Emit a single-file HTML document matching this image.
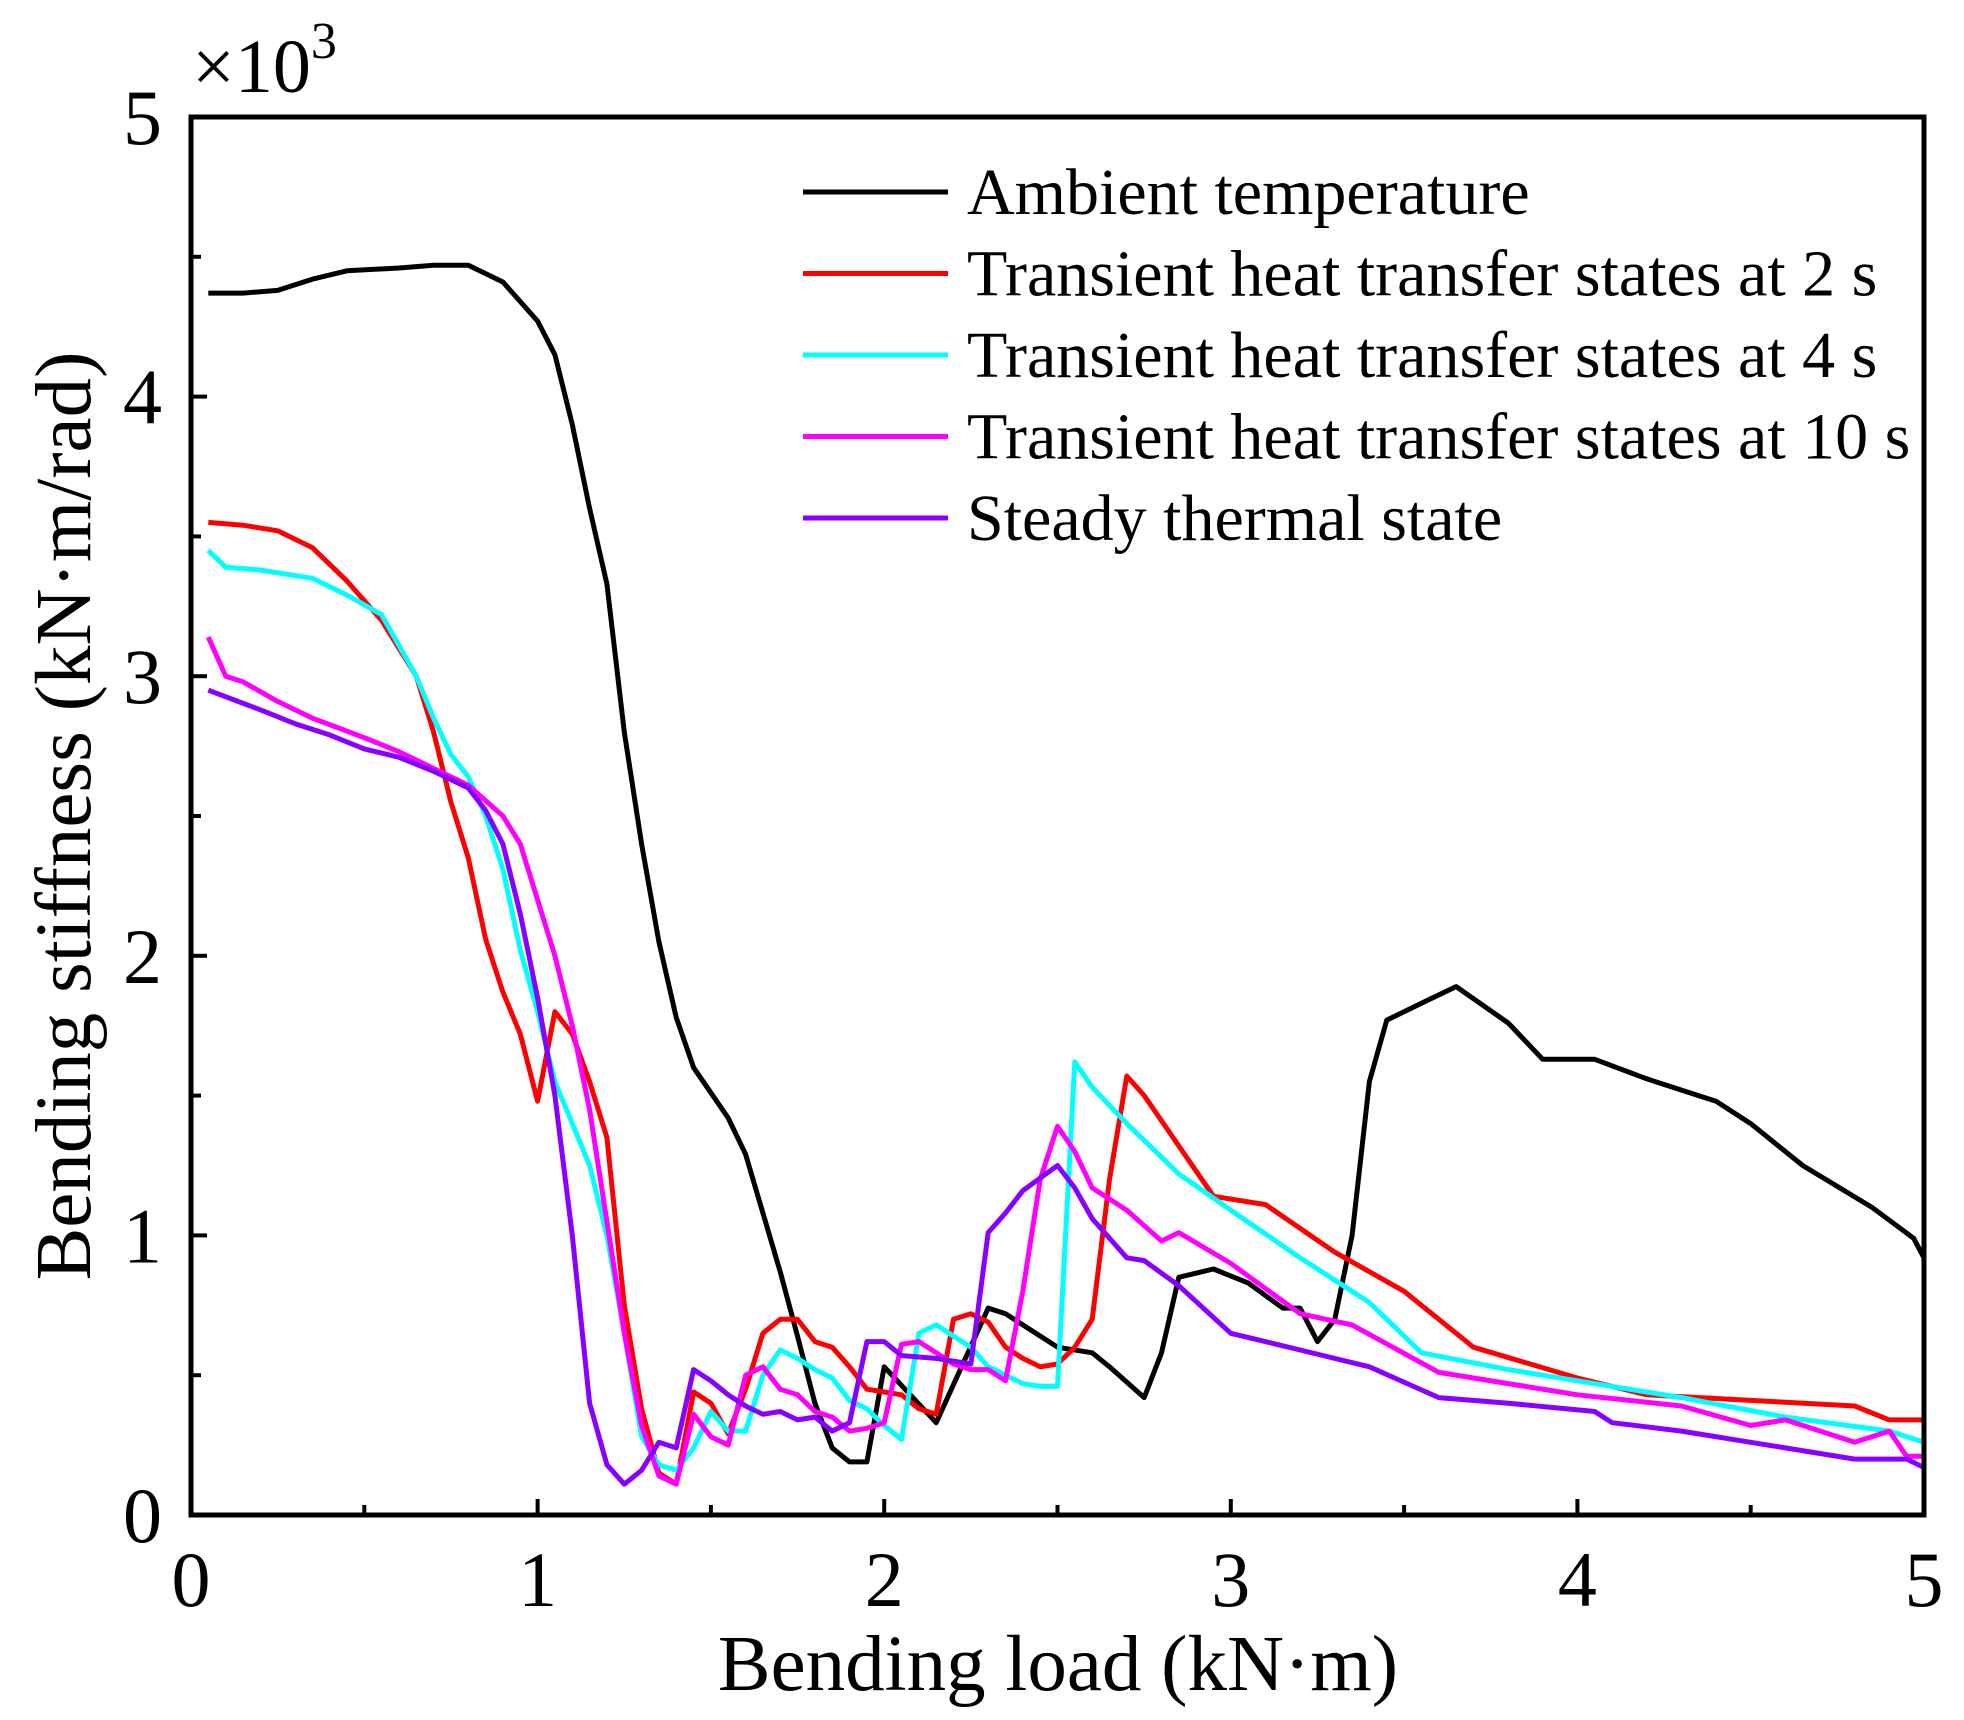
<!DOCTYPE html>
<html><head><meta charset="utf-8"><style>
body{margin:0;background:#fff}
svg text{font-family:"Liberation Serif",serif;fill:#000}
</style></head><body>
<svg id="c" width="1964" height="1715" viewBox="0 0 1964 1715"></svg>
<script>
const xTicks=[0,1,2,3,4,5];
const yTicks=[0,1,2,3,4,5];
const seriesNames=["Ambient temperature","Transient heat transfer states at 2 s","Transient heat transfer states at 4 s","Transient heat transfer states at 10 s","Steady thermal state"];
const seriesColors=["#000000","#ff0000","#00ffff","#ff00ff","#8800ff"];
const ambX=[0.05,0.15,0.25,0.35,0.45,0.6,0.7,0.8,0.9,1.0,1.05,1.1,1.15,1.2,1.25,1.3,1.35,1.4,1.45,1.5,1.55,1.6,1.65,1.7,1.75,1.8,1.85,1.9,1.95,2.0,2.15,2.3,2.35,2.4,2.5,2.6,2.65,2.75,2.8,2.85,2.95,3.05,3.15,3.2,3.25,3.3,3.35,3.4,3.45,3.55,3.65,3.8,3.9,4.05,4.2,4.4,4.5,4.65,4.85,4.97,5.0];
const ambY=[4370,4370,4380,4420,4450,4460,4470,4470,4410,4270,4150,3900,3600,3330,2800,2400,2050,1780,1600,1510,1420,1290,1080,870,640,400,240,190,190,530,330,740,720,680,600,580,530,420,580,850,880,830,740,740,620,700,1000,1550,1770,1830,1890,1760,1630,1630,1560,1480,1400,1250,1100,990,920];
const s2X=[0.05,0.15,0.25,0.35,0.45,0.55,0.65,0.7,0.75,0.8,0.85,0.9,0.95,1.0,1.05,1.1,1.15,1.2,1.25,1.3,1.35,1.4,1.45,1.5,1.55,1.6,1.65,1.7,1.75,1.8,1.85,1.9,1.95,2.0,2.05,2.1,2.15,2.2,2.25,2.3,2.35,2.4,2.45,2.5,2.55,2.6,2.65,2.7,2.75,2.85,2.95,3.1,3.3,3.5,3.7,4.0,4.2,4.5,4.8,4.9,5.0];
const s2Y=[3550,3540,3520,3460,3340,3200,3000,2800,2550,2350,2060,1870,1720,1480,1800,1720,1550,1350,750,380,150,110,440,400,290,450,650,700,700,620,600,530,450,440,430,380,360,700,720,690,600,560,530,540,600,700,1200,1570,1500,1320,1140,1110,940,800,600,490,430,410,390,340,340];
const s4X=[0.05,0.1,0.2,0.35,0.45,0.55,0.65,0.7,0.75,0.8,0.85,0.9,0.95,1.0,1.05,1.1,1.15,1.2,1.25,1.3,1.35,1.4,1.45,1.5,1.55,1.6,1.65,1.7,1.75,1.8,1.85,1.9,1.95,2.0,2.05,2.1,2.15,2.2,2.25,2.3,2.4,2.45,2.5,2.55,2.6,2.7,2.85,3.0,3.2,3.4,3.55,3.8,4.0,4.3,4.6,4.9,5.0];
const s4Y=[3450,3390,3380,3350,3290,3220,3000,2850,2720,2640,2500,2310,2020,1800,1550,1400,1250,1000,650,280,180,160,240,370,300,300,500,590,560,520,490,410,380,320,270,650,680,640,600,530,470,460,460,1620,1530,1400,1220,1090,920,760,580,520,480,420,350,300,260];
const s10X=[0.05,0.1,0.15,0.25,0.35,0.5,0.6,0.7,0.8,0.9,0.95,1.0,1.05,1.1,1.15,1.2,1.25,1.3,1.35,1.4,1.45,1.5,1.55,1.6,1.65,1.7,1.75,1.8,1.85,1.9,1.95,2.0,2.05,2.1,2.15,2.2,2.25,2.3,2.35,2.4,2.45,2.5,2.55,2.6,2.7,2.8,2.85,3.0,3.2,3.35,3.6,3.8,4.0,4.3,4.5,4.6,4.8,4.9,4.95,5.0];
const s10Y=[3140,3000,2980,2910,2850,2780,2730,2670,2610,2500,2400,2200,2000,1750,1450,1050,650,320,140,110,360,280,250,500,530,450,430,370,350,300,310,330,610,620,580,540,520,520,480,800,1200,1390,1300,1170,1090,980,1010,900,720,680,510,470,430,390,320,340,260,300,210,210];
const stX=[0.05,0.2,0.3,0.4,0.5,0.6,0.7,0.8,0.85,0.9,0.95,1.0,1.05,1.1,1.15,1.2,1.25,1.3,1.35,1.4,1.45,1.5,1.55,1.6,1.65,1.7,1.75,1.8,1.85,1.9,1.95,2.0,2.05,2.15,2.25,2.3,2.35,2.4,2.5,2.55,2.6,2.7,2.75,2.85,3.0,3.2,3.4,3.6,3.8,4.05,4.1,4.3,4.5,4.7,4.8,4.95,5.0];
const stY=[2950,2880,2830,2790,2740,2710,2660,2600,2520,2400,2150,1850,1500,1000,400,180,110,160,260,240,520,480,430,390,360,370,340,350,300,330,620,620,570,560,540,1010,1080,1160,1250,1170,1060,920,910,820,650,590,530,420,400,370,330,300,260,220,200,200,170];
const allX=[ambX,s2X,s4X,s10X,stX], allY=[ambY,s2Y,s4Y,s10Y,stY];
const L=191,R=1924,T=117,B=1515;
const sx=v=>L+(v-0)/5*(R-L);
const sy=v=>B-(v/1000)/5*(B-T);
const svg=document.getElementById('c');
const NS='http://www.w3.org/2000/svg';
function mk(tag,attrs,parent){const e=document.createElementNS(NS,tag);for(const k in attrs)e.setAttribute(k,attrs[k]);(parent||svg).appendChild(e);return e;}
allX.forEach((xs,i)=>{
  const d=xs.map((x,j)=>(j?'L':'M')+sx(x).toFixed(1)+','+sy(allY[i][j]).toFixed(1)).join('');
  const p=mk('path',{d:d,fill:'none',stroke:seriesColors[i],'stroke-width':5,'stroke-linejoin':'round'});
  
  
});
const f=mk('rect',{x:L,y:T,width:R-L,height:B-T,fill:'none',stroke:'#000','stroke-width':5});


for(let v=0;v<=5;v+=0.5){
  const len=(v%1===0)?16:10;
  const tx=mk('line',{x1:sx(v),x2:sx(v),y1:B,y2:B-len,stroke:'#000','stroke-width':4});
  
  
  const ty=mk('line',{x1:L,x2:L+len,y1:sy(v*1000),y2:sy(v*1000),stroke:'#000','stroke-width':4});
  
  
}
xTicks.forEach(v=>{const t=mk('text',{x:sx(v),y:1606,'font-size':78,'text-anchor':'middle'});t.textContent=v;
  
  });
yTicks.forEach(v=>{const t=mk('text',{x:162,y:sy(v*1000)+27,'font-size':78,'text-anchor':'end'});t.textContent=v;
  
  });
seriesNames.forEach((n,i)=>{
  const y=192+i*81.5;
  const l=mk('line',{x1:803,x2:948,y1:y,y2:y,stroke:seriesColors[i],'stroke-width':5});
  
  
  const t=mk('text',{x:967,y:y+22,'font-size':66});t.textContent=n;
  
  
});
</script>
<div style="position:absolute;left:0;top:0;width:1964px;height:1715px;pointer-events:none">
<svg width="1964" height="1715" style="position:absolute;left:0;top:0">
<text x="192" y="92" font-size="76">×10<tspan dy="-34" font-size="52">3</tspan></text>
<text x="1058" y="1690" font-size="79" text-anchor="middle">Bending load (kN·m)</text>
<text transform="translate(90,816) rotate(-90)" font-size="79" text-anchor="middle">Bending stiffness (kN·m/rad)</text>
</svg></div>
</body></html>
